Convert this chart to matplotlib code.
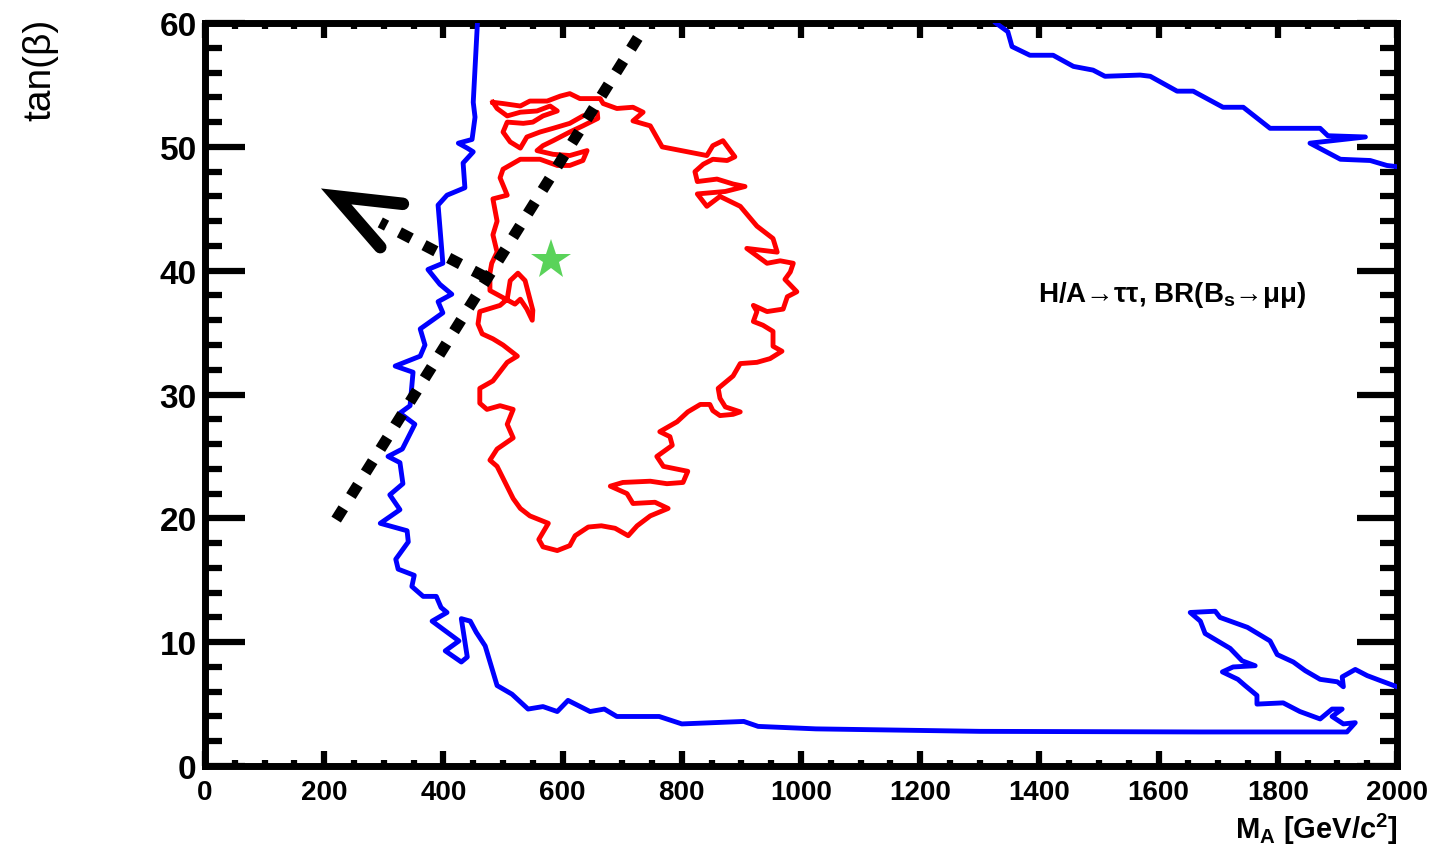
import matplotlib.pyplot as plt
from matplotlib.ticker import MultipleLocator

plt.rcParams["font.family"] = ["Liberation Sans", "DejaVu Sans"]
plt.rcParams["mathtext.fontset"] = "custom"
plt.rcParams["mathtext.rm"] = "Liberation Sans:bold"
plt.rcParams["mathtext.it"] = "Liberation Sans:bold"
plt.rcParams["mathtext.bf"] = "Liberation Sans:bold"

# blue contour (left branch, bottom, small loop at high M_A)
blue_ma = [457, 450, 453, 448, 425, 440, 450, 433, 436, 406, 391, 399, 374, 394,
           414, 391, 399, 361, 369, 361, 319, 349, 344, 327, 352, 331, 307, 327,
           332, 310, 327, 294, 339, 341, 320, 324, 351, 347, 366, 388, 396, 406,
           381, 426, 403, 430, 440, 430, 445, 455, 470, 490, 515, 542, 567, 591,
           609, 646, 670, 691, 762, 800, 904, 928, 1025, 1300, 1670, 1916, 1930,
           1910, 1891, 1908, 1891, 1871, 1837, 1809, 1765, 1765, 1745, 1733, 1707,
           1725, 1762, 1740, 1720, 1678, 1670, 1653, 1695, 1703, 1749, 1787, 1799,
           1826, 1846, 1871, 1900, 1910, 1908, 1930, 1950, 1972, 2000]
blue_tb = [60.0, 53.6, 52.4, 50.6, 50.3, 49.9, 49.6, 48.7, 46.7, 46.1, 45.3, 40.6,
           40.1, 38.9, 38.1, 37.5, 36.6, 35.3, 34.0, 33.1, 32.3, 31.8, 29.1, 28.5,
           27.6, 25.6, 25.0, 24.5, 22.8, 21.9, 20.7, 19.6, 19.0, 18.1, 16.7, 15.9,
           15.4, 14.5, 13.7, 13.7, 12.8, 12.4, 11.7, 10.1, 9.3, 8.4, 8.8, 11.9,
           11.7, 10.8, 9.7, 6.5, 5.8, 4.6, 4.8, 4.4, 5.3, 4.4, 4.6, 4.0, 4.0, 3.4,
           3.6, 3.2, 3.0, 2.8, 2.75, 2.75, 3.5, 3.4, 4.0, 4.6, 4.6, 3.8, 4.4, 5.1,
           5.0, 5.7, 6.5, 7.0, 7.6, 8.0, 8.1, 8.5, 9.5, 10.7, 11.7, 12.4, 12.5,
           12.0, 11.2, 10.1, 9.0, 8.4, 7.7, 7.0, 6.8, 6.4, 7.2, 7.8, 7.3, 6.9, 6.4]

# blue contour (upper right corner)
blue2_ma = [1327, 1347, 1354, 1384, 1423, 1457, 1490, 1510, 1569, 1586, 1631, 1658,
            1708, 1742, 1787, 1871, 1884, 1947, 1854, 1905, 1955, 1983, 2000]
blue2_tb = [60.0, 59.3, 58.1, 57.4, 57.4, 56.5, 56.2, 55.7, 55.8, 55.7, 54.5, 54.5,
            53.2, 53.2, 51.5, 51.5, 50.9, 50.8, 50.3, 49.0, 48.9, 48.5, 48.4]

# red contour (closed)
red_ma = [483, 500, 529, 545, 574, 596, 612, 629, 663, 668, 691, 718, 735, 718, 747,
          767, 842, 852, 869, 889, 876, 852, 836, 822, 826, 859, 886, 906, 873, 826,
          842, 864, 898, 926, 953, 960, 909, 943, 965, 987, 982, 973, 993, 977, 970,
          943, 920, 926, 920, 936, 953, 953, 968, 948, 926, 898, 886, 861, 864, 873,
          898, 886, 864, 852, 847, 831, 810, 792, 763, 780, 784, 758, 769, 810, 802,
          775, 747, 701, 680, 708, 718, 755, 777, 747, 725, 710, 688, 665, 643, 621,
          612, 591, 567, 560, 576, 545, 529, 517, 490, 478, 490, 517, 507, 517, 495,
          473, 461, 461, 483, 507, 524, 500, 483, 465, 458, 461, 495, 507, 512, 525,
          537, 544, 550, 549, 540, 529, 520, 478, 478, 481, 490, 483, 490, 483, 507,
          495, 500, 529, 562, 591, 612, 634, 641, 612, 584, 557, 567, 584, 612, 634,
          659, 658, 634, 612, 584, 562, 540, 529, 512, 500, 507, 534, 550, 567, 591,
          579, 557, 529, 507, 490, 483]
red_tb = [53.6, 53.5, 53.3, 53.7, 53.7, 54.1, 54.3, 53.9, 53.9, 53.5, 53.1, 53.2,
          52.8, 52.1, 51.7, 50.0, 49.3, 50.1, 50.5, 49.2, 48.9, 49.0, 48.6, 48.0,
          47.2, 47.4, 47.0, 46.8, 46.4, 46.2, 45.2, 46.0, 45.2, 43.6, 42.6, 41.5,
          41.8, 40.6, 40.8, 40.6, 39.9, 39.3, 38.3, 37.9, 36.9, 36.7, 37.2, 36.7,
          35.9, 35.6, 35.1, 33.9, 33.5, 32.9, 32.6, 32.5, 31.5, 30.5, 29.7, 29.0,
          28.6, 28.4, 28.3, 28.7, 29.2, 29.2, 28.6, 27.8, 27.0, 26.6, 25.9, 25.0,
          24.2, 23.8, 22.9, 22.8, 23.0, 22.9, 22.6, 22.0, 21.2, 21.3, 20.8, 20.2,
          19.4, 18.6, 19.2, 19.4, 19.3, 18.6, 17.8, 17.4, 17.7, 18.3, 19.6, 20.2,
          20.8, 21.6, 24.2, 24.7, 25.6, 26.5, 27.6, 28.8, 29.1, 28.8, 29.3, 30.5,
          31.1, 32.6, 33.1, 34.0, 34.5, 34.9, 35.7, 36.7, 37.2, 37.7, 39.2, 39.8,
          39.2, 37.9, 36.8, 36.0, 36.9, 37.7, 37.3, 38.4, 39.8, 40.6, 41.5, 42.9,
          44.0, 45.8, 46.1, 47.5, 48.2, 49.0, 49.0, 48.5, 48.5, 48.9, 49.7, 49.3,
          49.4, 49.7, 50.1, 50.5, 51.2, 51.7, 52.3, 52.8, 52.5, 51.9, 51.5, 51.2,
          50.8, 49.9, 50.4, 51.2, 52.0, 51.9, 52.0, 52.5, 52.9, 53.3, 52.9, 52.8,
          52.5, 53.1, 53.6]

# best fit point
star_ma, star_tb = 580, 40.9

# dotted line and arrow
cut_ma = [220, 726]
cut_tb = [19.9, 58.8]
shaft_ma = [470, 294]
shaft_tb = [39.5, 43.9]
head_ma = [332, 220, 294]
head_tb = [45.4, 46.0, 41.9]

label_text = r"H/A→ττ, BR(B$_{s}$→μμ)"

fig = plt.figure(figsize=(14.42, 8.53), dpi=100)
ax = fig.add_axes([0.1422, 0.1008, 0.8266, 0.8710])

ax.plot(blue_ma, blue_tb, color="#0000ff", lw=3.5, zorder=3)
ax.plot(blue2_ma, blue2_tb, color="#0000ff", lw=3.5, zorder=3)
ax.plot(red_ma, red_tb, color="#ff0000", lw=3.5, zorder=3)

# 点線と矢印
ax.plot(cut_ma, cut_tb, color="black", lw=8, dashes=(1.2, 1.3),
        dash_capstyle="butt", zorder=5)
ax.plot(shaft_ma, shaft_tb, color="black", lw=8, dashes=(1.2, 1.3),
        dash_capstyle="butt", zorder=5)
ax.plot(head_ma, head_tb, color="black", lw=9, solid_capstyle="round",
        solid_joinstyle="miter", zorder=5)

ax.plot(star_ma, star_tb, marker="*", ms=30, color="#5ad35a", mew=0,
        ls="none", zorder=6)

ax.text(1398, 38.1, label_text, fontsize=20, fontweight="bold", va="center",
        ha="left")

ax.set_xlim(0, 2000)
ax.set_ylim(0, 60)
ax.xaxis.set_major_locator(MultipleLocator(200))
ax.xaxis.set_minor_locator(MultipleLocator(50))
ax.yaxis.set_major_locator(MultipleLocator(10))
ax.yaxis.set_minor_locator(MultipleLocator(2))

for s in ax.spines.values():
    s.set_linewidth(5)
ax.tick_params(axis="both", which="both", direction="in", top=True, right=True,
               width=4.5, color="black")
ax.tick_params(axis="x", which="major", length=11, pad=9, labelsize=20)
ax.tick_params(axis="x", which="minor", length=4)
ax.tick_params(axis="y", which="major", length=29, pad=6, labelsize=24)
ax.tick_params(axis="y", which="minor", length=12)
for lab in ax.get_xticklabels() + ax.get_yticklabels():
    lab.set_fontweight("bold")

fig.text(0.028, 0.978, "tan(β)", rotation=90, ha="center", va="top", fontsize=28)
fig.text(0.9695, 0.028, r"M$_{A}$ [GeV/c$^{2}$]", ha="right", va="center",
         fontsize=21, fontweight="bold")

fig.savefig("out.png", dpi=100)
